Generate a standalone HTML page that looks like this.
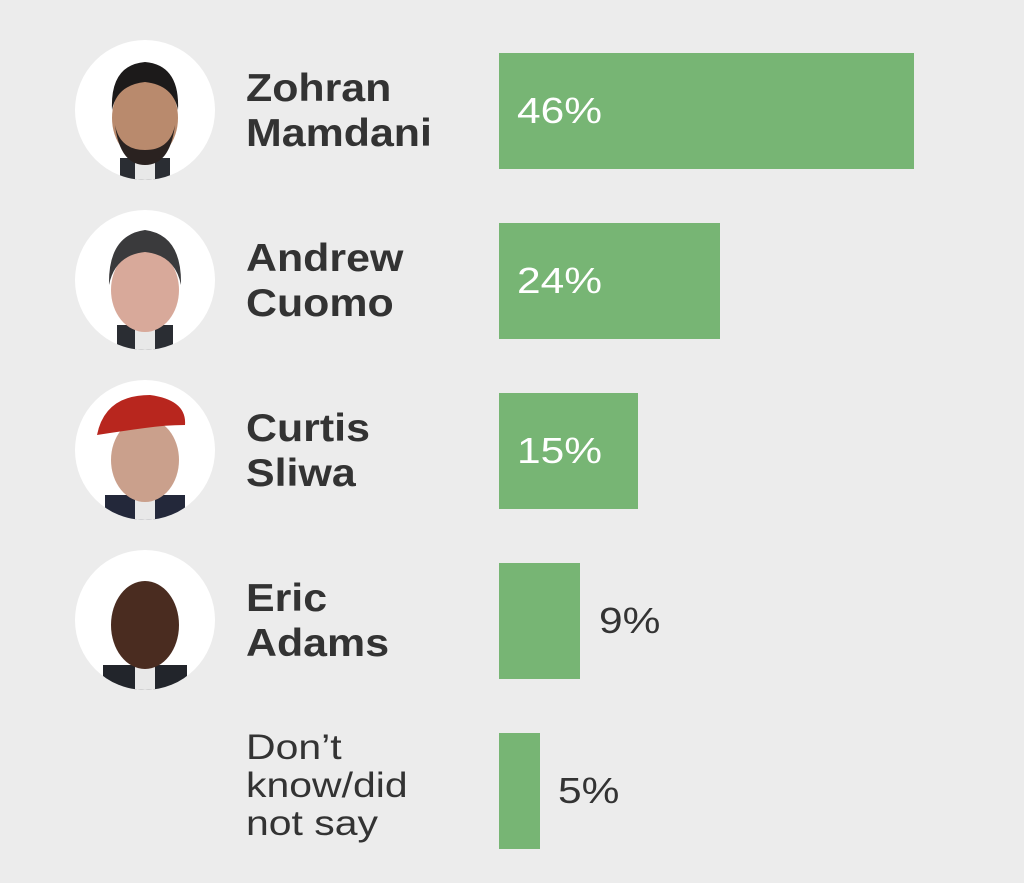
<!DOCTYPE html>
<html><head><meta charset="utf-8"><style>
html,body{margin:0;padding:0;}
body{width:1024px;height:883px;background:#ececec;position:relative;overflow:hidden;font-family:"Liberation Sans",Arial,sans-serif;}
.c{position:absolute;left:75px;width:140px;height:140px;border-radius:50%;background:#fff;overflow:hidden;}
.n{position:absolute;left:246px;font-weight:bold;font-size:39px;line-height:45px;color:#333;transform:scaleX(1.1);transform-origin:0 0;}
.d{position:absolute;left:246px;font-size:35px;line-height:38px;color:#333;transform:scaleX(1.17);transform-origin:0 0;}
.b{position:absolute;left:499px;background:#77b574;height:116px;}
.p{position:absolute;font-size:36px;line-height:40px;transform:scaleX(1.18);transform-origin:0 0;}
.w{color:#fff;left:517px;}
.k{color:#333;}
</style></head><body>

<div class="c" style="top:40px"><svg width="140" height="140"><rect x="45" y="118" width="50" height="30" fill="#2a2d33"/><rect x="60" y="115" width="20" height="25" fill="#e8e8e8"/><ellipse cx="70" cy="78" rx="33" ry="42" fill="#b98a6d"/><path d="M37 70 Q35 25 70 22 Q105 25 103 70 Q98 45 70 42 Q42 45 37 70Z" fill="#1c1a1a"/><path d="M40 85 Q45 125 70 125 Q95 125 100 85 Q95 110 70 110 Q45 110 40 85Z" fill="#2a2220"/></svg></div>
<div class="n" style="top:66px">Zohran<br>Mamdani</div>
<div class="b" style="top:53px;width:415px"></div>
<div class="p w" style="top:91px">46%</div>

<div class="c" style="top:210px"><svg width="140" height="140"><rect x="42" y="115" width="56" height="30" fill="#2a2d33"/><rect x="60" y="112" width="20" height="28" fill="#e8e8e8"/><ellipse cx="70" cy="80" rx="34" ry="42" fill="#d8a99a"/><path d="M34 75 Q33 25 70 20 Q107 25 106 75 Q100 45 70 42 Q40 45 34 75Z" fill="#3a3a3c"/></svg></div>
<div class="n" style="top:236px">Andrew<br>Cuomo</div>
<div class="b" style="top:223px;width:221px"></div>
<div class="p w" style="top:261px">24%</div>

<div class="c" style="top:380px"><svg width="140" height="140"><rect x="30" y="115" width="80" height="30" fill="#23283a"/><rect x="60" y="112" width="20" height="28" fill="#e8e8e8"/><ellipse cx="70" cy="80" rx="34" ry="42" fill="#caa08c"/><path d="M22 55 Q30 15 75 15 Q112 20 110 45 Q90 45 70 48 Q40 52 22 55Z" fill="#b8261e"/></svg></div>
<div class="n" style="top:406px">Curtis<br>Sliwa</div>
<div class="b" style="top:393px;width:139px"></div>
<div class="p w" style="top:431px">15%</div>

<div class="c" style="top:550px"><svg width="140" height="140"><rect x="28" y="115" width="84" height="30" fill="#22252b"/><rect x="60" y="112" width="20" height="28" fill="#e8e8e8"/><ellipse cx="70" cy="75" rx="34" ry="44" fill="#4a2c20"/></svg></div>
<div class="n" style="top:576px">Eric<br>Adams</div>
<div class="b" style="top:563px;width:81px"></div>
<div class="p k" style="left:599px;top:601px">9%</div>

<div class="d" style="top:729px">Don’t<br>know/did<br>not say</div>
<div class="b" style="top:733px;width:41px"></div>
<div class="p k" style="left:558px;top:771px">5%</div>
</body></html>
